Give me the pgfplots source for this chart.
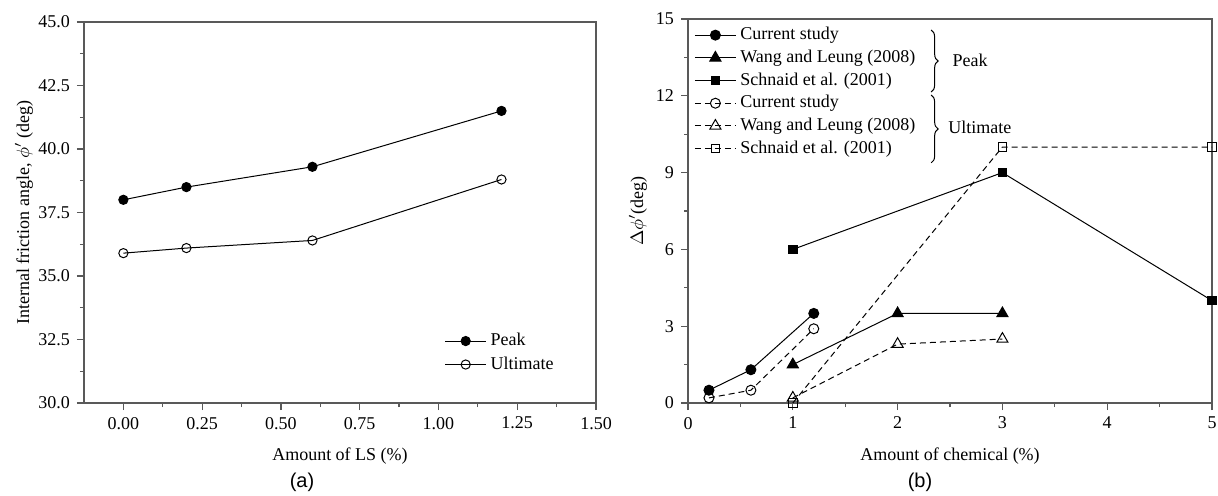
\documentclass[border=0pt]{standalone}
\usepackage{fontspec}
\setmainfont{Liberation Serif}
\newfontfamily\arialfont{Liberation Sans}
\usepackage{pgfplots}
\pgfplotsset{compat=1.18}
\usetikzlibrary{decorations.pathreplacing}

\pgfplotsset{
  panel/.style={
    scale only axis,
    axis line style={black!65, line width=0.8pt},
    tick style={black!65, line width=0.6pt},
    tick align=outside,
    xtick pos=left, ytick pos=left,
    major tick length=3.5pt, minor tick length=2pt,
    minor tick num=1,
    tick label style={font=\fontsize{9}{10}\selectfont},
    label style={font=\fontsize{9}{10}\selectfont},
    /pgf/number format/assume math mode=true,
    legend cell align=left,
    legend style={draw=none, fill=none, font=\fontsize{9}{10}\selectfont},
    legend image code/.code={
      \draw[mark repeat=2, mark phase=2, ##1]
        plot coordinates {(0cm,0cm) (0.36cm,0cm) (0.72cm,0cm)};
    },
  },
  solidline/.style={black, line width=0.5pt, solid},
  dashline/.style={black, line width=0.5pt, dash pattern=on 3pt off 2pt},
}

\begin{document}
\begin{tikzpicture}
\path[use as bounding box] (0,0) rectangle (609pt,247.5pt);

% (a) friction angle vs LS content
\begin{axis}[
    panel,
    at={(42pt,46pt)}, anchor=south west,
    width=256pt, height=190.5pt,
    xmin=-0.125, xmax=1.5,
    ymin=30, ymax=45,
    xtick={0,0.25,0.5,0.75,1,1.25,1.5},
    ytick={30,32.5,35,37.5,40,42.5,45},
    xticklabel style={/pgf/number format/.cd, fixed, fixed zerofill, precision=2},
    yticklabel style={/pgf/number format/.cd, fixed, fixed zerofill, precision=1},
    xlabel={Amount of LS (\%)},
    ylabel={Internal friction angle, $\phi'$ (deg)},
    x label style={at={([yshift=-26.5pt]axis description cs:0.5,0)}, anchor=center},
    y label style={at={([xshift=-30pt]axis description cs:0,0.5)}, anchor=center},
    legend style={at={(rel axis cs:0.692,0.205)}, anchor=north west},
]
\addplot[solidline, mark=*, mark size=2.3pt, mark options={fill=black}] coordinates {
    (0,38.0) (0.2,38.5) (0.6,39.3) (1.2,41.5)
};
\addlegendentry{Peak}
\addplot[solidline, mark=o, mark size=2.3pt, mark options={fill=white}] coordinates {
    (0,35.9) (0.2,36.1) (0.6,36.4) (1.2,38.8)
};
\addlegendentry{Ultimate}
\end{axis}

% (b) increase of friction angle vs chemical content
\begin{axis}[
    panel,
    at={(344pt,46pt)}, anchor=south west,
    width=262pt, height=192pt,
    xmin=0, xmax=5,
    ymin=0, ymax=15,
    xtick={0,1,2,3,4,5},
    ytick={0,3,6,9,12,15},
    xlabel={Amount of chemical (\%)},
    ylabel={$\Delta\phi'$(deg)},
    x label style={at={([yshift=-26.5pt]axis description cs:0.5,0)}, anchor=center},
    y label style={at={([xshift=-25pt]axis description cs:0,0.5)}, anchor=center},
    legend style={at={(rel axis cs:0.0,1.0)}, anchor=north west, row sep=-0.4pt},
]
\addplot[solidline, mark=*, mark size=2.5pt, mark options={solid, fill=black}] coordinates {
    (0.2,0.5) (0.6,1.3) (1.2,3.5)
};
\addlegendentry{Current study}
\addplot[solidline, mark=triangle*, mark size=3.2pt, mark options={solid, fill=black}] coordinates {
    (1,1.5) (2,3.5) (3,3.5)
};
\addlegendentry{Wang and Leung (2008)}
\addplot[solidline, mark=square*, mark size=2.1pt, mark options={solid, fill=black}] coordinates {
    (1,6) (3,9) (5,4)
};
\addlegendentry{Schnaid et al. (2001)}
\addplot[dashline, mark=o, mark size=2.5pt, mark options={solid, fill=white}] coordinates {
    (0.2,0.2) (0.6,0.5) (1.2,2.9)
};
\addlegendentry{Current study}
\addplot[dashline, mark=triangle, mark size=3.2pt, mark options={solid, fill=white}] coordinates {
    (1,0.2) (2,2.3) (3,2.5)
};
\addlegendentry{Wang and Leung (2008)}
\addplot[dashline, mark=square, mark size=2.1pt, mark options={solid, fill=white}] coordinates {
    (1,0) (3,10) (5,10)
};
\addlegendentry{Schnaid et al. (2001)}

\draw[black, line width=0.5pt, decorate, decoration={brace, amplitude=3.5pt}]
    (axis cs:2.32,14.57) -- (axis cs:2.32,12.15);
\draw[black, line width=0.5pt, decorate, decoration={brace, amplitude=3.5pt}]
    (axis cs:2.32,12.03) -- (axis cs:2.32,9.38);
\node[anchor=west, font=\fontsize{9}{10}\selectfont, inner sep=0pt] at (axis cs:2.52,13.4) {Peak};
\node[anchor=west, font=\fontsize{9}{10}\selectfont, inner sep=0pt] at (axis cs:2.48,10.75) {Ultimate};
\end{axis}

\node[font=\arialfont\fontsize{10}{12}\selectfont] at (151pt,6.5pt) {(a)};
\node[font=\arialfont\fontsize{10}{12}\selectfont] at (460pt,6.5pt) {(b)};
\end{tikzpicture}
\end{document}
